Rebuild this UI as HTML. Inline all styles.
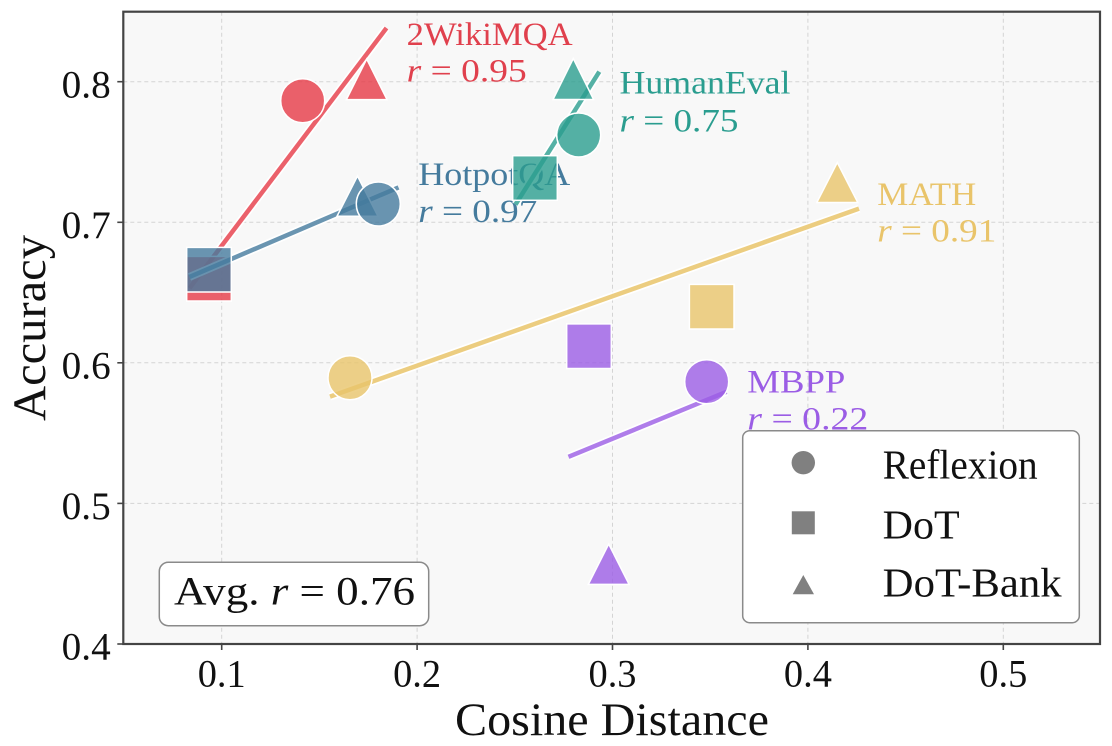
<!DOCTYPE html>
<html>
<head>
<meta charset="utf-8">
<style>
html,body{margin:0;padding:0;background:#ffffff;}
svg{display:block;}
text{font-family:"Liberation Serif","DejaVu Serif",serif;}
</style>
</head>
<body>
<svg width="1112" height="746" viewBox="0 0 1112 746" xmlns="http://www.w3.org/2000/svg">
  <rect x="0" y="0" width="1112" height="746" fill="#ffffff"/>
  <!-- axes background -->
  <rect x="123.3" y="11.7" width="976.7" height="632.3" fill="#f8f8f8"/>
  <!-- grid -->
  <g stroke="#d4d4d4" stroke-width="1" stroke-dasharray="4,3" fill="none">
    <line x1="221.7" y1="11.7" x2="221.7" y2="644"/>
    <line x1="417.1" y1="11.7" x2="417.1" y2="644"/>
    <line x1="612.5" y1="11.7" x2="612.5" y2="644"/>
    <line x1="807.9" y1="11.7" x2="807.9" y2="644"/>
    <line x1="1003.3" y1="11.7" x2="1003.3" y2="644"/>
    <line x1="123.3" y1="503.4" x2="1100" y2="503.4"/>
    <line x1="123.3" y1="362.8" x2="1100" y2="362.8"/>
    <line x1="123.3" y1="222.3" x2="1100" y2="222.3"/>
    <line x1="123.3" y1="81.7" x2="1100" y2="81.7"/>
  </g>

  <!-- ===== 2WikiMQA (red) ===== -->
  <g>
    <line x1="189.5" y1="288.3" x2="386.5" y2="28" stroke="#ffffff" stroke-width="8" stroke-opacity="0.9"/>
    <line x1="189.5" y1="288.3" x2="386.5" y2="28" stroke="#e63946" stroke-width="4.5" stroke-opacity="0.8"/>
    <g fill="#e63946" fill-opacity="0.8" stroke="#ffffff" stroke-width="1.5">
      <polygon points="366.7,59 346.4,99.6 387,99.6"/>
      <rect x="186.7" y="256.4" width="44.6" height="44.6"/>
      <circle cx="302.7" cy="100.7" r="22"/>
    </g>
    <text x="406.7" y="45" font-size="33" fill="#e0404d" textLength="166" lengthAdjust="spacingAndGlyphs">2WikiMQA</text>
    <text x="406.7" y="81.5" font-size="33" fill="#e0404d" textLength="120" lengthAdjust="spacingAndGlyphs"><tspan font-style="italic">r</tspan> = 0.95</text>
  </g>

  <!-- ===== HotpotQA (blue) ===== -->
  <g>
    <line x1="189.5" y1="276.9" x2="398.5" y2="187.4" stroke="#ffffff" stroke-width="8" stroke-opacity="0.9"/>
    <line x1="189.5" y1="276.9" x2="398.5" y2="187.4" stroke="#457b9d" stroke-width="4.5" stroke-opacity="0.8"/>
    <g fill="#457b9d" fill-opacity="0.8" stroke="#ffffff" stroke-width="1.5">
      <polygon points="357.5,176 337,216.3 378,216.3"/>
      <rect x="186.7" y="247.4" width="44.6" height="44.6"/>
      <circle cx="378.3" cy="204" r="22"/>
    </g>
    <text x="418.3" y="185" font-size="33" fill="#457b9d" textLength="152" lengthAdjust="spacingAndGlyphs">HotpotQA</text>
    <text x="418.3" y="222" font-size="33" fill="#457b9d" textLength="119" lengthAdjust="spacingAndGlyphs"><tspan font-style="italic">r</tspan> = 0.97</text>
  </g>

  <!-- ===== HumanEval (teal) ===== -->
  <g>
    <line x1="515.5" y1="204.5" x2="599.3" y2="71.7" stroke="#ffffff" stroke-width="8" stroke-opacity="0.9"/>
    <line x1="515.5" y1="204.5" x2="599.3" y2="71.7" stroke="#2a9d8f" stroke-width="4.5" stroke-opacity="0.8"/>
    <g fill="#2a9d8f" fill-opacity="0.8" stroke="#ffffff" stroke-width="1.5">
      <polygon points="573.3,58.5 553,99.5 593.6,99.5"/>
      <rect x="512.7" y="155.7" width="44.6" height="44.6"/>
      <circle cx="578.7" cy="135" r="22"/>
    </g>
    <text x="619.5" y="93.3" font-size="33" fill="#2a9d8f" textLength="171" lengthAdjust="spacingAndGlyphs">HumanEval</text>
    <text x="619.5" y="131.7" font-size="33" fill="#2a9d8f" textLength="119" lengthAdjust="spacingAndGlyphs"><tspan font-style="italic">r</tspan> = 0.75</text>
  </g>

  <!-- ===== MATH (yellow) ===== -->
  <g>
    <line x1="330" y1="396.6" x2="859" y2="208.6" stroke="#ffffff" stroke-width="8" stroke-opacity="0.9"/>
    <line x1="330" y1="396.6" x2="859" y2="208.6" stroke="#e9c46a" stroke-width="4.5" stroke-opacity="0.85"/>
    <g fill="#e9c46a" fill-opacity="0.8" stroke="#ffffff" stroke-width="1.5">
      <polygon points="837.3,162.5 816.8,202.5 857.8,202.5"/>
      <rect x="689.4" y="284.4" width="44.6" height="44.6"/>
      <circle cx="350" cy="377.7" r="22"/>
    </g>
    <text x="877.3" y="205" font-size="33" fill="#e9c46a" textLength="99" lengthAdjust="spacingAndGlyphs">MATH</text>
    <text x="877.3" y="241.7" font-size="33" fill="#e9c46a" textLength="119" lengthAdjust="spacingAndGlyphs"><tspan font-style="italic">r</tspan> = 0.91</text>
  </g>

  <!-- ===== MBPP (purple) ===== -->
  <g>
    <line x1="568.5" y1="456.8" x2="726.5" y2="391.8" stroke="#ffffff" stroke-width="8" stroke-opacity="0.9"/>
    <line x1="568.5" y1="456.8" x2="726.5" y2="391.8" stroke="#9b5de5" stroke-width="4.5" stroke-opacity="0.8"/>
    <g fill="#9b5de5" fill-opacity="0.8" stroke="#ffffff" stroke-width="1.5">
      <polygon points="608.7,544 588.3,584.4 629.1,584.4"/>
      <rect x="566.7" y="323.9" width="44.6" height="44.6"/>
      <circle cx="706.7" cy="381.7" r="22"/>
    </g>
    <text x="747.3" y="392.7" font-size="33" fill="#9b5de5" textLength="98" lengthAdjust="spacingAndGlyphs">MBPP</text>
    <text x="747.3" y="429.3" font-size="33" fill="#9b5de5" textLength="121" lengthAdjust="spacingAndGlyphs"><tspan font-style="italic">r</tspan> = 0.22</text>
  </g>

  <!-- Avg box -->
  <rect x="159.3" y="562.3" width="269.4" height="63.4" rx="9" ry="9" fill="#ffffff" stroke="#8a8a8a" stroke-width="1.5"/>
  <text x="174" y="604.3" font-size="40" fill="#111111" textLength="241" lengthAdjust="spacingAndGlyphs">Avg. <tspan font-style="italic">r</tspan> = 0.76</text>

  <!-- Legend -->
  <rect x="742.7" y="430.7" width="336.6" height="192" rx="7" ry="7" fill="#ffffff" stroke="#8a8a8a" stroke-width="1.5"/>
  <circle cx="803.3" cy="462.7" r="11.7" fill="#808080"/>
  <rect x="791.8" y="511.3" width="23" height="23" fill="#808080"/>
  <polygon points="803.3,575 792.7,594.3 814,594.3" fill="#808080"/>
  <text x="882.7" y="478.3" font-size="41" fill="#111111" textLength="155" lengthAdjust="spacingAndGlyphs">Reflexion</text>
  <text x="882.7" y="538.3" font-size="41" fill="#111111" textLength="77" lengthAdjust="spacingAndGlyphs">DoT</text>
  <text x="882.7" y="596.7" font-size="41" fill="#111111" textLength="179" lengthAdjust="spacingAndGlyphs">DoT-Bank</text>

  <!-- spines -->
  <rect x="123.3" y="11.7" width="976.7" height="632.3" fill="none" stroke="#444444" stroke-width="2.2"/>

  <!-- ticks -->
  <g stroke="#444444" stroke-width="1.6">
    <line x1="221.7" y1="644" x2="221.7" y2="650"/>
    <line x1="417.1" y1="644" x2="417.1" y2="650"/>
    <line x1="612.5" y1="644" x2="612.5" y2="650"/>
    <line x1="807.9" y1="644" x2="807.9" y2="650"/>
    <line x1="1003.3" y1="644" x2="1003.3" y2="650"/>
    <line x1="117.3" y1="644" x2="123.3" y2="644"/>
    <line x1="117.3" y1="503.4" x2="123.3" y2="503.4"/>
    <line x1="117.3" y1="362.8" x2="123.3" y2="362.8"/>
    <line x1="117.3" y1="222.3" x2="123.3" y2="222.3"/>
    <line x1="117.3" y1="81.7" x2="123.3" y2="81.7"/>
  </g>

  <!-- tick labels -->
  <g font-size="39" fill="#111111">
    <text x="221.7" y="686.7" text-anchor="middle" textLength="48" lengthAdjust="spacingAndGlyphs">0.1</text>
    <text x="417.1" y="686.7" text-anchor="middle" textLength="48" lengthAdjust="spacingAndGlyphs">0.2</text>
    <text x="612.5" y="686.7" text-anchor="middle" textLength="48" lengthAdjust="spacingAndGlyphs">0.3</text>
    <text x="807.9" y="686.7" text-anchor="middle" textLength="48" lengthAdjust="spacingAndGlyphs">0.4</text>
    <text x="1003.3" y="686.7" text-anchor="middle" textLength="48" lengthAdjust="spacingAndGlyphs">0.5</text>
    <text x="110.7" y="659.6" text-anchor="end" textLength="49" lengthAdjust="spacingAndGlyphs">0.4</text>
    <text x="110.7" y="519" text-anchor="end" textLength="49" lengthAdjust="spacingAndGlyphs">0.5</text>
    <text x="110.7" y="378.4" text-anchor="end" textLength="49" lengthAdjust="spacingAndGlyphs">0.6</text>
    <text x="110.7" y="237.9" text-anchor="end" textLength="49" lengthAdjust="spacingAndGlyphs">0.7</text>
    <text x="110.7" y="97.3" text-anchor="end" textLength="49" lengthAdjust="spacingAndGlyphs">0.8</text>
  </g>

  <!-- axis labels -->
  <text x="612" y="735" font-size="47" fill="#111111" text-anchor="middle" textLength="314" lengthAdjust="spacingAndGlyphs">Cosine Distance</text>
  <text transform="translate(45,328) rotate(-90)" font-size="47" fill="#111111" text-anchor="middle" textLength="186" lengthAdjust="spacingAndGlyphs">Accuracy</text>
</svg>
</body>
</html>
